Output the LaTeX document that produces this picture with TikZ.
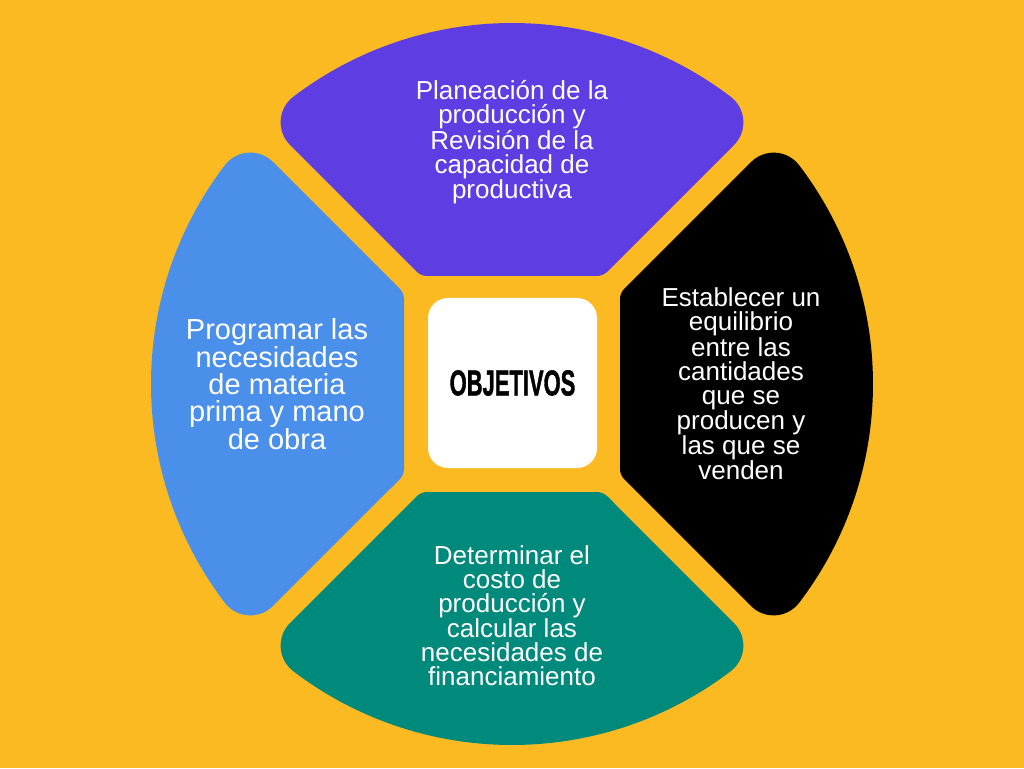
\documentclass[tikz,border=0pt]{standalone}
\usepackage{fontspec}
\setmainfont{Liberation Sans}
\newfontfamily\objfont{Liberation Sans}[BoldFeatures={FakeBold=1.5}]
\definecolor{bgyellow}{HTML}{FBBA22}
\definecolor{segpurple}{HTML}{5E3DE3}
\definecolor{segblue}{HTML}{4A8FE9}
\definecolor{segteal}{HTML}{008A7B}
\definecolor{segblack}{HTML}{000000}
\begin{document}
\begin{tikzpicture}[x=1pt,y=1pt,
  segtext/.style={text=white, align=center, font=\fontsize{26}{24}\selectfont, inner sep=0pt},
  bigtext/.style={segtext, font=\fontsize{29}{26.7}\selectfont},
  centerbox/.style={fill=white, rounded corners=20pt, minimum width=169pt, minimum height=170pt, inner sep=0pt}]
% geometry (1 unit = 1 px of the reference), top segment; others rotated
\pgfmathsetmacro\R{361}    % outer radius
\pgfmathsetmacro\c{17}     % diagonal offset
\pgfmathsetmacro\h{108}    % inner edge distance
\pgfmathsetmacro\ri{15}    % inner fillet
\pgfmathsetmacro\ro{32}    % outer fillet
\pgfmathsetmacro\s{sqrt(2)/2}
% inner fillet centre (left): (X0,Y0)
\pgfmathsetmacro\Yz{\h+\ri}
\pgfmathsetmacro\Xz{\c+\ri*sqrt(2)-\h-\ri}
% outer fillet centre (right): (Xc,Yc)
\pgfmathsetmacro\d{\c+\ro*sqrt(2)}
\pgfmathsetmacro\Q{\R-\ro}
\pgfmathsetmacro\Xc{(-\d+100*sqrt(2*(\Q/100)^2-(\d/100)^2))/2}
\pgfmathsetmacro\Yc{\Xc+\d}
\pgfmathsetmacro\phi{atan2(\Yc,\Xc)}
\fill[bgyellow] (-512,-384) rectangle (512,384);
\useasboundingbox (-512,-384) rectangle (512,384);
\foreach \rot/\col in {0/segpurple, 90/segblue, 180/segteal, 270/segblack}{
  \fill[\col, rotate=\rot]
    (\Xz,\h) -- (-\Xz,\h)
    arc[start angle=270, end angle=315, radius=\ri]
    -- ({\Xc+\ro*\s},{\Yc-\ro*\s})
    arc[start angle=-45, end angle=\phi, radius=\ro]
    arc[start angle=\phi, end angle=180-\phi, radius=\R]
    arc[start angle=180-\phi, end angle=225, radius=\ro]
    -- ({\Xz-\ri*\s},{\Yz-\ri*\s})
    arc[start angle=225, end angle=270, radius=\ri]
    -- cycle;
}
\node[centerbox] (obj) at (0.5,1) {\scalebox{0.61}[1]{\objfont\fontsize{36}{36}\selectfont\bfseries OBJETIVOS}};
\node[segtext] (top) at (0,242) {Planeación de la\\producción y\\Revisión de la\\capacidad de\\productiva};
\node[segtext] (right) at (229,0) {Establecer un\\equilibrio\\entre las\\cantidades\\que se\\producen y\\las que se\\venden};
\node[segtext] (bottom) at (0,-232) {Determinar el\\costo de\\producción y\\calcular las\\necesidades de\\financiamiento};
\node[bigtext] (left) at (-235,0) {Programar las\\necesidades\\de materia\\prima y mano\\de obra};
\end{tikzpicture}
\end{document}
